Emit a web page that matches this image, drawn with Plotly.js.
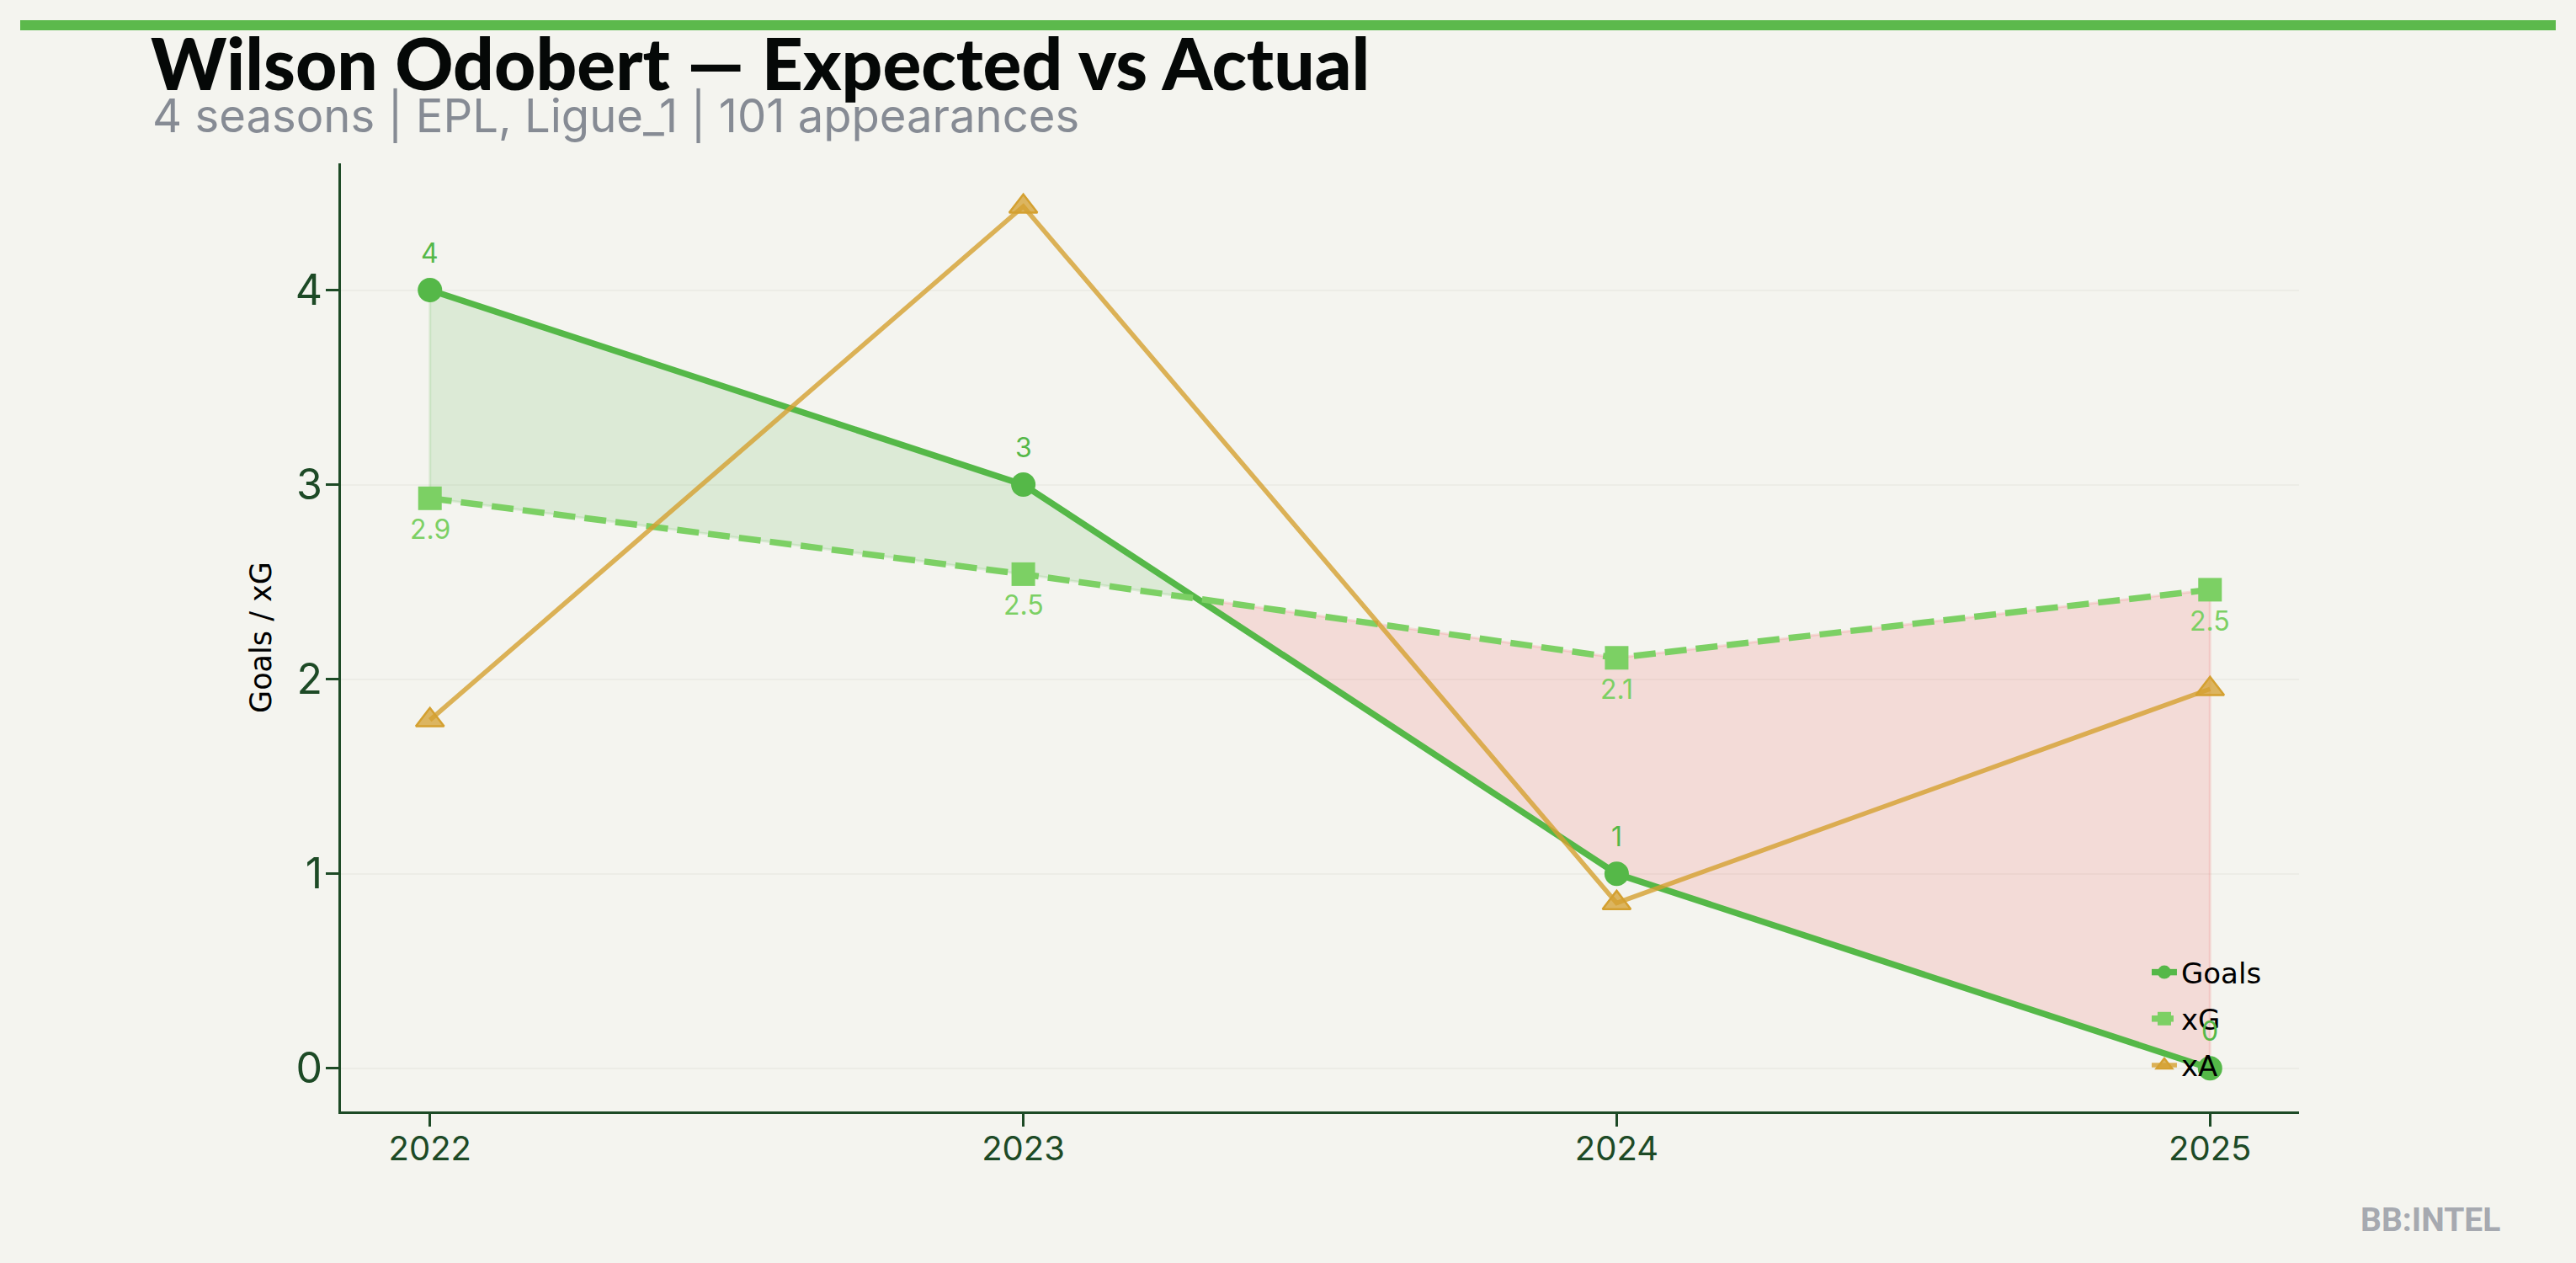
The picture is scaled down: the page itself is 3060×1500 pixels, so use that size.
<!DOCTYPE html>
<html>
<head>
<meta charset="utf-8">
<script src="https://cdn.plot.ly/plotly-3.0.1.min.js"></script>
<style>
  html, body { margin: 0; padding: 0; background: #f4f4ef; }
  #chart { width: 3060px; height: 1500px; }
</style>
</head>
<body>
<div id="chart"></div>
<script>
// ---- data ----
const seasons = [2022, 2023, 2024, 2025];
const goals = [4, 3, 1, 0];
const xg = [2.93, 2.54, 2.11, 2.46];
const xa = [1.79, 4.43, 0.85, 1.95];
const seriesNames = ["Goals", "xG", "xA"];
const titleText = "Wilson Odobert — Expected vs Actual";
const subtitleText = "4 seasons | EPL, Ligue_1 | 101 appearances";
const yTitle = "Goals / xG";
const watermark = "BB:INTEL";

// ---- colours ----
const cGoals = "#55b848";
const cXg = "#7cd064";
const cXa = "#d4a030";
const axisCol = "#1d4a26";
const bg = "#f4f4ef";

// ---- fill-between regions (goals vs xG), split at crossings ----
function fillRegions(x, a, b) {
  const regions = [];
  let cur = null;
  for (let i = 0; i < x.length; i++) {
    const above = a[i] >= b[i];
    if (!cur) { cur = { above, pts: [[x[i], a[i], b[i]]] }; continue; }
    if (above !== cur.above) {
      const d0 = a[i - 1] - b[i - 1], d1 = a[i] - b[i];
      const t = d0 / (d0 - d1);
      const xc = x[i - 1] + t * (x[i] - x[i - 1]);
      const yc = a[i - 1] + t * (a[i] - a[i - 1]);
      cur.pts.push([xc, yc, yc]);
      regions.push(cur);
      cur = { above, pts: [[xc, yc, yc]] };
    }
    cur.pts.push([x[i], a[i], b[i]]);
  }
  if (cur) regions.push(cur);
  return regions;
}

const traces = [];
fillRegions(seasons, goals, xg).forEach(r => {
  const px = r.pts.map(p => p[0]).concat(r.pts.map(p => p[0]).reverse());
  const py = r.pts.map(p => p[1]).concat(r.pts.map(p => p[2]).reverse());
  px.push(px[0]); py.push(py[0]);
  traces.push({
    x: px, y: py, type: "scatter", mode: "lines", fill: "toself",
    fillcolor: r.above ? "rgba(85,184,72,0.15)" : "rgba(239,83,80,0.15)",
    line: { color: r.above ? "rgba(85,184,72,0.15)" : "rgba(239,83,80,0.15)", width: 3 },
    hoverinfo: "skip", showlegend: false
  });
});

traces.push({
  x: seasons, y: goals, name: seriesNames[0], type: "scatter", mode: "lines+markers",
  line: { color: cGoals, width: 7.5 },
  marker: { symbol: "circle", size: 29, color: cGoals },
  legendgroup: "g1"
});
traces.push({
  x: seasons, y: xg, name: seriesNames[1], type: "scatter", mode: "lines+markers",
  line: { color: cXg, width: 7.5, dash: "26px,11px" },
  marker: { symbol: "square", size: 28, color: cXg },
  legendgroup: "g2"
});
traces.push({
  x: seasons, y: xa, name: seriesNames[2], type: "scatter", mode: "lines+markers",
  line: { color: "rgba(212,160,48,0.8)", width: 5.5 },
  marker: { symbol: "triangle-up", size: 29, color: "rgba(212,160,48,0.75)", line: { color: cXa, width: 2.5 } },
  legendgroup: "g3"
});

// ---- axis ranges from data (matplotlib-like 5% margins) ----
const allY = goals.concat(xg, xa);
const yMin = Math.min(...allY), yMax = Math.max(...allY);
const yPad = 0.05 * (yMax - yMin);
const xMin = Math.min(...seasons), xMax = Math.max(...seasons);
const xPad = 0.05 * (xMax - xMin);

// ---- annotations ----
const annotations = [];
seasons.forEach((s, i) => {
  annotations.push({ x: s, y: goals[i], xref: "x", yref: "y", text: String(goals[i]),
    showarrow: false, yshift: 44, font: { family: "Inter, sans-serif", size: 32, color: cGoals } });
  annotations.push({ x: s, y: xg[i], xref: "x", yref: "y", text: xg[i].toFixed(1),
    showarrow: false, yshift: -37, font: { family: "Inter, sans-serif", size: 32, color: cXg } });
});
annotations.push({
  text: subtitleText, xref: "paper", yref: "paper", x: -0.0972, y: 1.0502,
  xanchor: "left", yanchor: "middle", showarrow: false,
  font: { family: "Inter, sans-serif", size: 54.4, color: "#868b94" }
});
annotations.push({
  text: "<b>" + watermark + "</b>", xref: "paper", yref: "paper", x: 1.0671, y: -0.115,
  xanchor: "center", yanchor: "middle", showarrow: false,
  font: { family: "Roboto, sans-serif", size: 39, color: "#a6a9b0" }
});

const layout = {
  width: 3060, height: 1500,
  paper_bgcolor: bg, plot_bgcolor: bg,
  margin: { l: 405, r: 329, t: 194, b: 180 },
  title: {
    text: titleText, xref: "container", yref: "container",
    x: 179 / 3060, xanchor: "left", y: 1 - 77 / 1500, yanchor: "middle",
    font: { family: "Lato, sans-serif", size: 85.6, weight: 900, color: "#050807" }
  },
  xaxis: {
    range: [xMin - xPad, xMax + xPad], tickmode: "array", tickvals: seasons,
    ticktext: seasons.map(String), showgrid: false, zeroline: false,
    showline: true, linecolor: axisCol, linewidth: 3,
    ticks: "outside", ticklen: 15, tickwidth: 3, tickcolor: axisCol,
    ticklabelstandoff: -8,
    tickfont: { family: "Inter, sans-serif", size: 40, color: axisCol }
  },
  yaxis: {
    range: [yMin - yPad, yMax + yPad], dtick: 1, tick0: 0,
    showgrid: true, gridcolor: "#ecece6", gridwidth: 2, zeroline: false,
    showline: true, linecolor: axisCol, linewidth: 3,
    ticks: "outside", ticklen: 15, tickwidth: 3, tickcolor: axisCol,
    ticklabelstandoff: -6,
    tickfont: { family: "Inter, sans-serif", size: 50, color: axisCol },
    title: { text: yTitle, standoff: 18, font: { family: "DejaVu Sans, sans-serif", size: 35, color: "#000" } }
  },
  legend: {
    x: 0.9226, xanchor: "left", y: 0.0977, yanchor: "middle",
    bgcolor: "rgba(0,0,0,0)", borderwidth: 0, tracegroupgap: 8,
    font: { family: "DejaVu Sans, sans-serif", size: 34, color: "#000" }
  },
  shapes: [{
    type: "rect", xref: "paper", yref: "paper",
    x0: -0.1638, x1: 1.1311, y0: 1.1403, y1: 1.151,
    fillcolor: "#5cb94c", line: { width: 0 }
  }],
  annotations: annotations,
  showlegend: true
};

Plotly.newPlot("chart", traces, layout, { displayModeBar: false, staticPlot: true });
</script>
</body>
</html>
